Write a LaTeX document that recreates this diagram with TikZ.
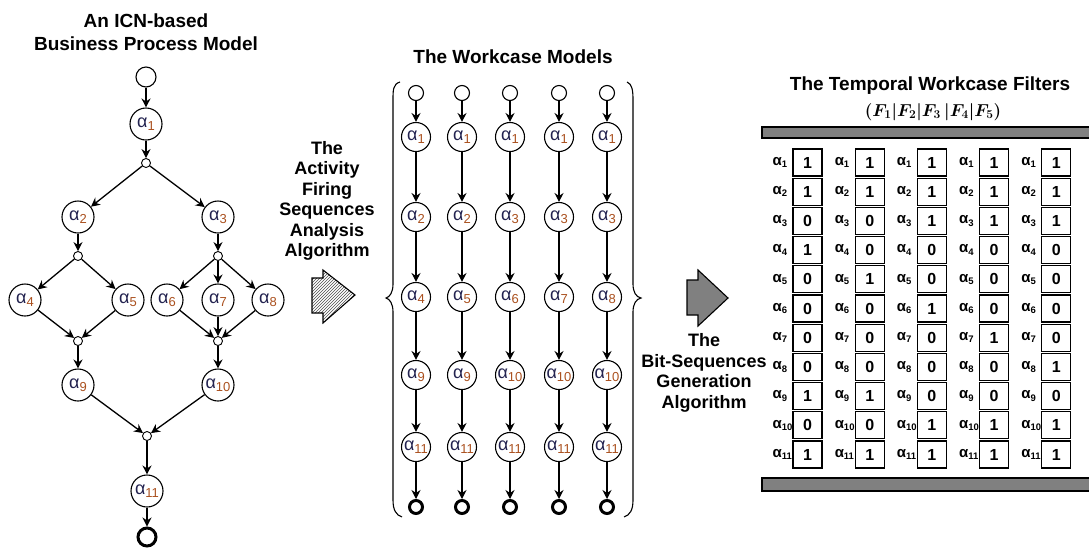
\documentclass[tikz,border=0pt]{standalone}
\usepackage{fontspec}
\setmainfont{Liberation Sans}
\usetikzlibrary{arrows.meta,patterns}
\definecolor{alnavy}{RGB}{35,35,80}
\definecolor{alsub}{RGB}{170,80,30}
\definecolor{bargray}{RGB}{128,128,128}
\newcommand\lab[1]{{\fontsize{18}{18}\selectfont\color{alnavy}α}\raisebox{-3.5pt}{\fontsize{13}{13}\selectfont\color{alsub}#1}}
\newcommand\glab[1]{{\fontsize{15}{15}\selectfont\bfseries α}\raisebox{-2.5pt}{\fontsize{9.5}{9.5}\selectfont\bfseries #1}}
\newcommand\ftext{$(F_1\vert F_2\vert F_3\,\vert F_4\vert F_5)$}
\begin{document}
\begin{tikzpicture}[x=1pt,y=-1pt,
  act/.style={circle,draw,line width=1.1pt,minimum size=32pt,inner sep=0pt},
  actm/.style={circle,draw,line width=1.1pt,minimum size=29pt,inner sep=0pt},
  startc/.style={circle,draw,line width=1.1pt,minimum size=20pt,inner sep=0pt},
  startm/.style={circle,draw,line width=1.1pt,minimum size=15pt,inner sep=0pt},
  endc/.style={circle,draw,line width=3pt,minimum size=18pt,inner sep=0pt},
  endm/.style={circle,draw,line width=3pt,minimum size=13pt,inner sep=0pt},
  junc/.style={circle,draw,line width=0.9pt,minimum size=9pt,inner sep=0pt},
  arr/.style={line width=1.3pt,-{Stealth[length=9pt,width=9pt,inset=3pt]}},
  title/.style={font=\fontsize{19}{23}\selectfont\bfseries,align=center,inner sep=0pt},
  subt/.style={font=\fontsize{17.5}{17.5}\selectfont\boldmath,inner sep=0pt},
  side/.style={font=\fontsize{18}{20.5}\selectfont\bfseries,align=center,inner sep=0pt},
  bitbox/.style={draw,line width=1.3pt,minimum width=29pt,minimum height=27pt,inner sep=0pt,font=\fontsize{16}{16}\selectfont\bfseries},
  bar/.style={draw,line width=1.5pt,fill=bargray}
]
\useasboundingbox (0,0) rectangle (1089,550);

% ---------- left model ----------
\node[title,anchor=base] (t1) at (146,27) {An ICN-based};
\node[title,anchor=base] (t2) at (146,50) {Business Process Model};
\node[startc] (s) at (146,77) {};
\node[act] (a1) at (146,124) {\lab{1}};
\node[junc] (j1) at (146,163) {};
\node[act] (a2) at (78,217) {\lab{2}};
\node[act] (a3) at (218,217) {\lab{3}};
\node[junc] (j2) at (78,256) {};
\node[junc] (j3) at (218,256) {};
\node[act] (a4) at (25,300) {\lab{4}};
\node[act] (a5) at (128,300) {\lab{5}};
\node[act] (a6) at (167,300) {\lab{6}};
\node[act] (a7) at (218,300) {\lab{7}};
\node[act] (a8) at (268,300) {\lab{8}};
\node[junc] (j4) at (78,341) {};
\node[junc] (j5) at (218,341) {};
\node[act] (a9) at (78,385) {\lab{9}};
\node[act] (a10) at (218,385) {\lab{10}};
\node[junc] (j6) at (147,436) {};
\node[act] (a11) at (147,491) {\lab{11}};
\node[endc] (e) at (147,537) {};
\foreach \u/\v in {s/a1,a1/j1,j1/a2,j1/a3,a2/j2,a3/j3,j2/a4,j2/a5,j3/a6,j3/a7,j3/a8,a4/j4,a5/j4,a6/j5,a7/j5,a8/j5,j4/a9,j5/a10,a9/j6,a10/j6,j6/a11,a11/e}
  \draw[arr] (\u) -- (\v);

% ---------- first algorithm ----------
\node[side] (alg1) at (327,201) {The\\Activity\\Firing\\Sequences\\Analysis\\Algorithm};
\draw[line width=1.1pt,pattern=north east lines,pattern color=black!70]
  (312,278) -- (323,278) -- (323,270) -- (355,295) -- (323,323) -- (323,313) -- (312,313) -- cycle;

% ---------- workcase models ----------
\node[title,anchor=base] (t3) at (513,63) {The Workcase Models};
\draw[line width=1.1pt] (400,82) .. controls (393,84) and (393,90) .. (393,100)
  -- (393,284) .. controls (393,292) and (390,297) .. (386,298)
  .. controls (390,299) and (393,304) .. (393,312)
  -- (393,500) .. controls (393,510) and (396,515) .. (402,517);
\draw[line width=1.1pt] (627,82) .. controls (632,84) and (633,90) .. (633,100)
  -- (633,284) .. controls (633,292) and (636,297) .. (641,298)
  .. controls (636,299) and (633,304) .. (633,312)
  -- (633,500) .. controls (633,510) and (630,515) .. (624,517);
\foreach \c/\x/\p/\q/\s in {1/416/2/4/9,2/462/2/5/9,3/510/3/6/10,4/559/3/7/10,5/607/3/8/10}{
  \node[startm] (m\c-0) at (\x,93) {};
  \node[actm] (m\c-1) at (\x,137) {\lab{1}};
  \node[actm] (m\c-2) at (\x,217) {\lab{\p}};
  \node[actm] (m\c-3) at (\x,297) {\lab{\q}};
  \node[actm] (m\c-4) at (\x,375) {\lab{\s}};
  \node[actm] (m\c-5) at (\x,447) {\lab{11}};
  \node[endm] (m\c-6) at (\x,507) {};
  \foreach \i [evaluate=\i as \j using int(\i+1)] in {0,...,5}
    \draw[arr] (m\c-\i) -- (m\c-\j);
}

% ---------- second algorithm ----------
\draw[line width=1.1pt,fill=bargray]
  (687,280) -- (698,280) -- (698,270) -- (728,298) -- (698,326) -- (698,315) -- (687,315) -- cycle;
\node[side] (alg2) at (704,373) {The\\Bit-Sequences\\Generation\\Algorithm};

% ---------- filters ----------
\node[title,anchor=base] (t4) at (930,90) {The Temporal Workcase Filters};
\node[subt,anchor=base] (t5) at (933,116) {\ftext};
\draw[bar] (762,127) rectangle (1095,138);
\draw[bar] (762,478) rectangle (1095,491);
\foreach \c/\vals in {1/{1,1,0,1,0,0,0,0,1,0,1},2/{1,1,0,0,1,0,0,0,1,0,1},3/{1,1,1,0,0,1,0,0,0,1,1},4/{1,1,1,0,0,0,1,0,0,1,1},5/{1,1,1,0,0,0,0,1,0,1,1}}{
  \foreach \v [count=\r] in \vals {
    \pgfmathsetmacro\bx{807.5+62.2*(\c-1)}
    \pgfmathsetmacro\by{162.5+29.2*(\r-1)}
    \node[bitbox] (g\c-\r) at (\bx,\by) {\v};
    \node[anchor=west,inner sep=0pt] (l\c-\r) at ([xshift=-20pt]g\c-\r.west) {\glab{\r}};
  }
}
\end{tikzpicture}
\end{document}
